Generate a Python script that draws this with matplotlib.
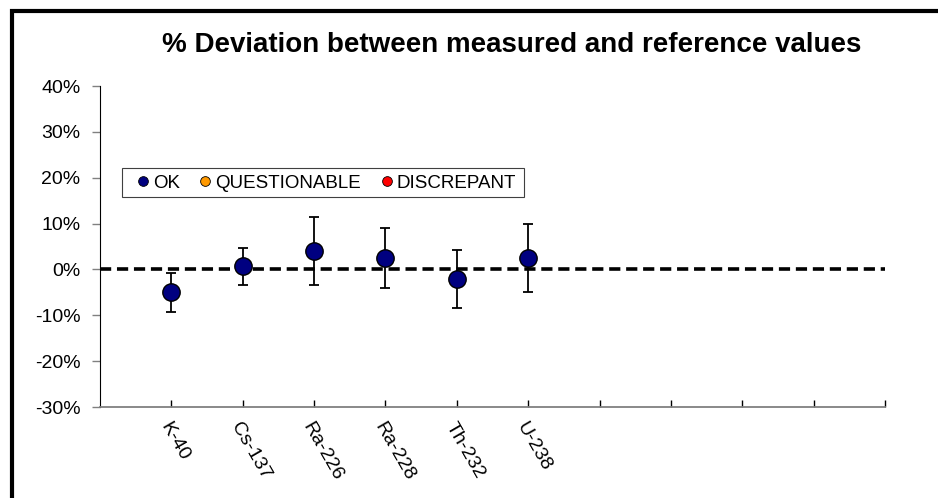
import matplotlib.pyplot as plt
from matplotlib.patches import Rectangle
from matplotlib.lines import Line2D
from matplotlib.ticker import FuncFormatter

plt.rcParams['font.family'] = ['Liberation Sans', 'DejaVu Sans']

# nuclides and % deviation with uncertainty
nuclides = ["K-40", "Cs-137", "Ra-226", "Ra-228", "Th-232", "U-238"]
deviation = [-5.0, 0.7, 4.0, 2.5, -2.1, 2.5]
uncert = [4.2, 4.0, 7.4, 6.6, 6.4, 7.4]
n_slots = 11
yticks = [-30, -20, -10, 0, 10, 20, 30, 40]

W, H = 938, 498
fig = plt.figure(figsize=(W/100, H/100), dpi=100)
ax = fig.add_axes([100/W, 1-407/H, 785/W, 321/H])

xs = list(range(1, len(nuclides) + 1))
ax.axhline(0, color='black', lw=2.6, ls=(0, (3.1, 1.6)), zorder=1)
ax.errorbar(xs, deviation, yerr=uncert, fmt='none', ecolor='black',
            elinewidth=1.3, capsize=3.8, capthick=1.3, zorder=2)
ax.plot(xs, deviation, 'o', ms=12.5, mfc='#000080', mec='black', mew=1, zorder=3)

ax.set_xlim(0, n_slots)
ax.set_ylim(-30, 40)
ax.set_yticks(yticks)
ax.yaxis.set_major_formatter(FuncFormatter(lambda v, p: f"{v:.0f}%"))
ax.set_xticks(range(1, n_slots + 1))
ax.set_xticklabels(nuclides + [""] * (n_slots - len(nuclides)),
                   rotation=-60, ha='left', va='top', rotation_mode='anchor')

for s in ['top', 'right']:
    ax.spines[s].set_visible(False)
ax.spines['left'].set_color('black')
ax.spines['bottom'].set_color('#808080')
ax.spines['bottom'].set_linewidth(1.3)
ax.tick_params(axis='y', direction='out', length=6, width=1, color='#808080',
               labelsize=14, pad=8)
ax.tick_params(axis='x', direction='in', length=5, width=1, color='#000000',
               labelsize=14, pad=9)

fig.text(512/W, 1-45/H, "% Deviation between measured and reference values",
         ha='center', va='center', fontsize=20, fontweight='bold')

# legend (frame drawn separately so it can be wider than the entries)
handles = [Line2D([], [], ls='none', marker='o', ms=7, mfc=c, mec='black', mew=0.6)
           for c in ['#000080', '#FF9900', '#FF0000']]
leg = fig.legend(handles, ['OK', 'QUESTIONABLE', 'DISCREPANT'], ncol=3,
                 loc='center left', bbox_to_anchor=(137/W, 1-183/H),
                 frameon=False, fontsize=13.5,
                 handlelength=0.6, handletextpad=0.25, columnspacing=1.05,
                 borderpad=0, borderaxespad=0)
fig.patches.append(Rectangle((122/W, 1-197/H), 402/W, 29/H, transform=fig.transFigure,
                             fill=False, edgecolor='#404040', lw=0.8))

fig.patches.append(Rectangle((11.5/W, -0.1), 1.2, 1 - 11.5/H + 0.1,
                             transform=fig.transFigure, fill=False,
                             edgecolor='black', lw=3))

fig.savefig("out.png", dpi=100)
